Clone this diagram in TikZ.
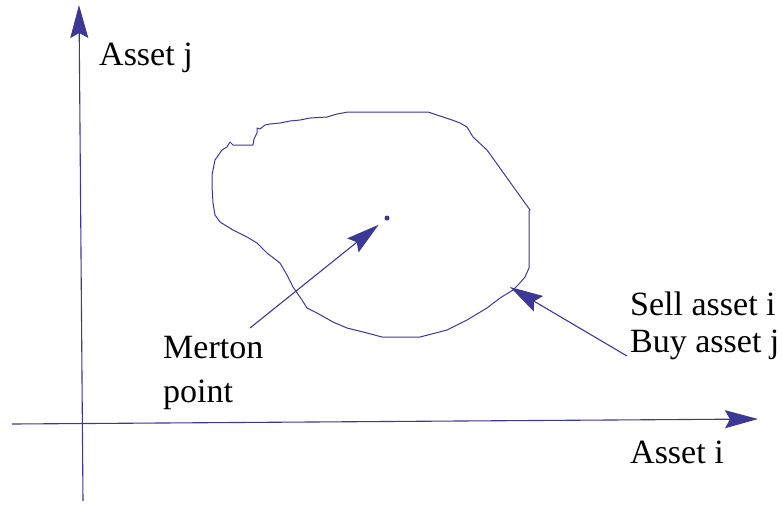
\documentclass[tikz,border=0pt]{standalone}
\usepackage{fontspec}
\setmainfont{Liberation Serif}
\usetikzlibrary{arrows.meta}
\definecolor{ink}{RGB}{60,56,150}
\begin{document}
\begin{tikzpicture}[x=1pt,y=-1pt,
  line/.style={draw=ink,line width=1.1pt},
  bigarrow/.style={line,-{Stealth[length=33pt,width=18pt,inset=5pt,fill=ink]}},
  lbl/.style={font=\fontsize{34}{38}\selectfont,text=black,inner sep=0pt,anchor=base west}]
\useasboundingbox (0,0) rectangle (783,504);
% axes
\coordinate (yb) at (83,501);
\coordinate (yt) at (79,5);
\coordinate (xl) at (12,424);
\coordinate (xr) at (758,419);
\draw[bigarrow] (yb) -- (yt);
\draw[bigarrow] (xl) -- (xr);
% labels
\node[lbl] (aj) at (99,65) {Asset j};
\node[lbl] (ai) at (630,463) {Asset i};
\node[lbl] (m1) at (163,358) {Merton};
\node[lbl] (m2) at (163,402) {point};
\node[lbl] (s1) at (630,315) {Sell asset i};
\node[lbl] (s2) at (630,352) {Buy asset j};
% region
\draw[line,line width=1pt,line join=round]
 (230,142) -- (233,145) -- (253,145) -- (254,139) -- (257,133) -- (257,128) -- (260,129)
 -- (265,125) -- (270,124) -- (280,123) -- (290,121) -- (300,120) -- (310,118) -- (327,117)
 -- (337,114) -- (348,112) -- (428,112) -- (440,116) -- (452,120) -- (460,123) -- (467,127)
 -- (473,137) -- (487,150) -- (530,210) -- (529,211) -- (529,268) -- (525,277)
 -- (519,284) -- (513,290) -- (500,298) -- (487,308) -- (477,314) -- (467,320) -- (447,330)
 -- (420,337) -- (382,337) -- (367,333) -- (347,328) -- (333,322) -- (317,313) -- (307,308)
 -- (302,300) -- (293,287) -- (287,275) -- (280,263) -- (267,253) -- (257,243) -- (247,237)
 -- (233,230) -- (220,222) -- (215,215) -- (213,203) -- (212,187) -- (212,175) -- (215,160)
 -- (222,150) -- (227,147) -- cycle;
% Merton point
\node[circle,fill=ink,inner sep=0pt,minimum size=5pt] (mp) at (387,218) {};
\coordinate (mtail) at (250,328);
\draw[bigarrow,shorten >=8pt] (mtail) -- (mp);
% trade arrow
\coordinate (edge) at (510,287);
\coordinate (stail) at (627,356);
\draw[bigarrow] (stail) -- (edge);
\end{tikzpicture}
\end{document}
